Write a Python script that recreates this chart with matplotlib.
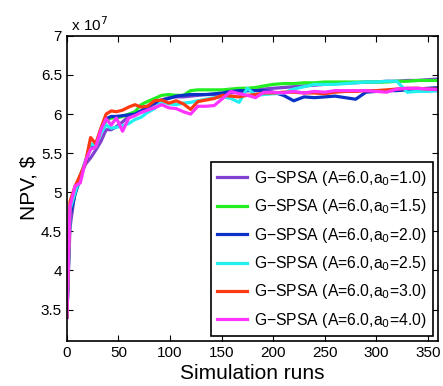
import matplotlib
matplotlib.use('Agg')
import matplotlib.pyplot as plt

plt.rcParams['font.family'] = ['Liberation Sans', 'DejaVu Sans']

# simulation runs (shared x for all series)
runs = [0, 3, 8, 13, 18, 23, 28, 33, 38, 43, 48, 54, 60, 66, 72, 78, 85, 92, 99, 106,
        113, 120, 127, 135, 143, 151, 159, 167, 175, 183, 191, 200, 210, 220, 230, 240,
        250, 260, 270, 280, 290, 300, 310, 320, 330, 340, 350, 362]

# NPV values, units of 1e7 $
npv_a10 = [3.4, 4.55, 5.02, 5.22, 5.36, 5.44, 5.54, 5.65, 5.80, 5.80, 5.84, 5.90, 5.97, 6.01,
           6.04, 6.08, 6.13, 6.18, 6.21, 6.22, 6.22, 6.23, 6.24, 6.25, 6.25, 6.26, 6.27, 6.28,
           6.30, 6.31, 6.32, 6.33, 6.34, 6.35, 6.36, 6.37, 6.38, 6.39, 6.40, 6.40, 6.41, 6.41,
           6.42, 6.42, 6.43, 6.43, 6.44, 6.45]
npv_a15 = [3.4, 4.72, 4.98, 5.20, 5.40, 5.60, 5.58, 5.78, 5.92, 5.95, 5.95, 5.97, 6.00, 6.03,
           6.12, 6.16, 6.20, 6.24, 6.25, 6.24, 6.24, 6.30, 6.31, 6.31, 6.31, 6.31, 6.32, 6.33,
           6.33, 6.34, 6.36, 6.38, 6.39, 6.39, 6.40, 6.40, 6.41, 6.41, 6.41, 6.41, 6.41, 6.41,
           6.41, 6.42, 6.42, 6.43, 6.43, 6.43]
npv_a20 = [3.4, 4.70, 4.98, 5.18, 5.38, 5.58, 5.60, 5.80, 5.94, 5.97, 5.97, 5.98, 5.99, 6.00,
           6.04, 6.10, 6.14, 6.18, 6.20, 6.23, 6.24, 6.25, 6.25, 6.25, 6.26, 6.27, 6.29, 6.30,
           6.30, 6.30, 6.30, 6.28, 6.24, 6.17, 6.22, 6.21, 6.22, 6.23, 6.21, 6.19, 6.28, 6.29,
           6.30, 6.30, 6.31, 6.32, 6.33, 6.34]
npv_a25 = [3.4, 4.78, 5.00, 5.20, 5.40, 5.62, 5.60, 5.76, 5.86, 5.82, 5.83, 5.85, 5.88, 5.93,
           5.96, 6.02, 6.07, 6.16, 6.13, 6.12, 6.14, 6.15, 6.17, 6.19, 6.21, 6.22, 6.20, 6.15,
           6.33, 6.24, 6.25, 6.26, 6.27, 6.32, 6.35, 6.38, 6.38, 6.38, 6.39, 6.40, 6.41, 6.41,
           6.42, 6.42, 6.28, 6.29, 6.29, 6.30]
npv_a30 = [3.4, 4.88, 5.08, 5.22, 5.38, 5.70, 5.62, 5.82, 6.00, 6.04, 6.03, 6.05, 6.09, 6.12,
           6.09, 6.10, 6.17, 6.18, 6.14, 6.17, 6.13, 6.06, 6.16, 6.18, 6.20, 6.24, 6.23, 6.22,
           6.24, 6.25, 6.27, 6.27, 6.28, 6.28, 6.27, 6.27, 6.26, 6.28, 6.29, 6.29, 6.30, 6.30,
           6.31, 6.32, 6.33, 6.33, 6.32, 6.32]
npv_a40 = [3.4, 4.82, 5.08, 5.12, 5.40, 5.55, 5.58, 5.80, 5.94, 5.86, 5.95, 5.78, 5.95, 5.98,
           6.02, 6.05, 6.08, 6.12, 6.08, 6.07, 6.03, 6.00, 6.10, 6.10, 6.11, 6.20, 6.29, 6.26,
           6.24, 6.21, 6.28, 6.28, 6.27, 6.29, 6.27, 6.29, 6.28, 6.30, 6.30, 6.30, 6.30, 6.29,
           6.28, 6.32, 6.33, 6.33, 6.32, 6.31]

labels = ['G\u2212SPSA (A=6.0,a$_0$=1.0)', 'G\u2212SPSA (A=6.0,a$_0$=1.5)',
          'G\u2212SPSA (A=6.0,a$_0$=2.0)', 'G\u2212SPSA (A=6.0,a$_0$=2.5)',
          'G\u2212SPSA (A=6.0,a$_0$=3.0)', 'G\u2212SPSA (A=6.0,a$_0$=4.0)']
colors = ['#8040d0', '#22ee22', '#0a32c8', '#22f0f0', '#ff3a10', '#ff33ff']
series = [npv_a10, npv_a15, npv_a20, npv_a25, npv_a30, npv_a40]

fig = plt.figure(figsize=(4.43, 3.86), dpi=100)
ax = fig.add_axes([0.151, 0.117, 0.838, 0.79])

for vals, c, lab in zip(series, colors, labels):
    ax.plot(runs, vals, color=c, linewidth=2.3, label=lab)

ax.set_xlim(0, 360)
ax.set_ylim(3.1, 7)
ax.set_xticks(range(0, 351, 50))
ax.set_yticks([3.5, 4, 4.5, 5, 5.5, 6, 6.5, 7])
ax.set_yticklabels(['3.5', '4', '4.5', '5', '5.5', '6', '6.5', '7'])
ax.tick_params(direction='in', top=True, right=True, labelsize=11, length=4, width=0.8)
for s in ax.spines.values():
    s.set_linewidth(1.2)

ax.set_xlabel('Simulation runs', fontsize=15, labelpad=3)
ax.set_ylabel('NPV, \\$', fontsize=15, labelpad=2)
ax.text(0.0, 1.005, ' x 10$^7$', transform=ax.transAxes, fontsize=11, va='bottom', ha='left')

leg = ax.legend(loc='lower right', fontsize=11.3, handlelength=1.9, fancybox=False,
                edgecolor='black', framealpha=1, borderaxespad=0.3, labelspacing=0.6,
                handletextpad=0.45, borderpad=0.4)
leg.get_frame().set_linewidth(1.2)

fig.savefig('out.png', dpi=100)
